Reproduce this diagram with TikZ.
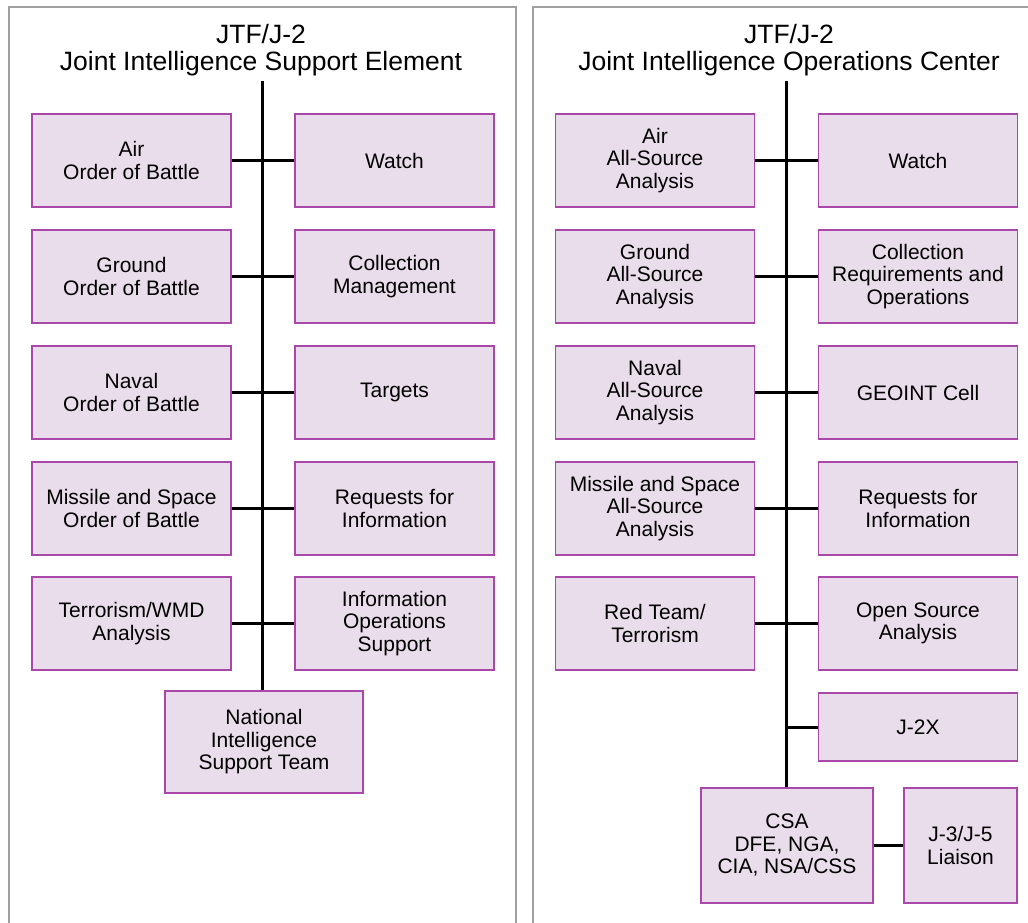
\documentclass[tikz,border=0pt]{standalone}
\usepackage{fontspec}
\setmainfont{Liberation Sans}
\usepackage{tikz}
\definecolor{unitfill}{RGB}{234,221,235}
\definecolor{unitdraw}{RGB}{170,72,170}
\definecolor{panelgray}{RGB}{160,160,160}
\tikzset{
  unit/.style={draw=unitdraw,line width=1.6pt,fill=unitfill,inner sep=0pt,
    minimum width=199pt,minimum height=93pt,align=center,
    font=\fontsize{21}{22.5}\selectfont},
  title/.style={inner sep=0pt,align=center,font=\fontsize{26.5}{27}\selectfont},
  link/.style={line width=3pt},
  panel/.style={draw=panelgray,line width=1.2pt}
}

\begin{document}
\begin{tikzpicture}[x=1pt,y=-1pt]
    \useasboundingbox (0,0) rectangle (1028,923);
    \draw[panel] (9,923) -- (9,7) -- (516,7) -- (516,923);
    \draw[panel] (533,923) -- (533,7) -- (1028,7);

    \node[title] (titleL) at (261,50.6) {JTF/J-2\\Joint Intelligence Support Element};
    \node[title] (titleR) at (789,50.6) {JTF/J-2\\Joint Intelligence Operations Center};

    \node[unit] (la1) at (131.5,160.5) {Air\\Order of Battle};
    \node[unit] (la2) at (131.5,276.5) {Ground\\Order of Battle};
    \node[unit] (la3) at (131.5,392.5) {Naval\\Order of Battle};
    \node[unit] (la4) at (131.5,508.5) {Missile and Space\\Order of Battle};
    \node[unit] (la5) at (131.5,623.5) {Terrorism/WMD\\Analysis};
    \node[unit] (lb1) at (394.5,160.5) {Watch};
    \node[unit] (lb2) at (394.5,276.5) {Collection\\Management};
    \node[unit] (lb3) at (394.5,392.5) {Targets};
    \node[unit] (lb4) at (394.5,508.5) {Requests for\\Information};
    \node[unit] (lb5) at (394.5,623.5) {Information\\Operations\\Support};
    \node[unit,minimum width=198pt,minimum height=102pt] (nist) at (264,742) {National\\Intelligence\\Support Team};

    \coordinate (topL) at (262,81);
    \draw[link] (topL) -- (topL |- nist.north);
    \draw[link] (la1.east) -- (lb1.west);
    \draw[link] (la2.east) -- (lb2.west);
    \draw[link] (la3.east) -- (lb3.west);
    \draw[link] (la4.east) -- (lb4.west);
    \draw[link] (la5.east) -- (lb5.west);

    \node[unit] (ra1) at (655,160.5) {Air\\All-Source\\Analysis};
    \node[unit] (ra2) at (655,276.5) {Ground\\All-Source\\Analysis};
    \node[unit] (ra3) at (655,392.5) {Naval\\All-Source\\Analysis};
    \node[unit] (ra4) at (655,508.5) {Missile and Space\\All-Source\\Analysis};
    \node[unit] (ra5) at (655,623.5) {Red Team/\\Terrorism};
    \node[unit] (rb1) at (918,160.5) {Watch};
    \node[unit] (rb2) at (918,276.5) {Collection\\Requirements and\\Operations};
    \node[unit] (rb3) at (918,392.5) {GEOINT Cell};
    \node[unit] (rb4) at (918,508.5) {Requests for\\Information};
    \node[unit] (rb5) at (918,623.5) {Open Source\\Analysis};
    \node[unit,minimum height=68pt] (jtwox) at (918,727) {J-2X};
    \node[unit,minimum width=172pt,minimum height=115pt] (csa) at (787,845.5) {CSA\\DFE, NGA,\\CIA, NSA/CSS};
    \node[unit,minimum width=113pt,minimum height=115pt] (liaison) at (960.5,845.5) {J-3/J-5\\Liaison};

    \coordinate (topR) at (786,81);
    \draw[link] (topR) -- (topR |- csa.north);
    \draw[link] (ra1.east) -- (rb1.west);
    \draw[link] (ra2.east) -- (rb2.west);
    \draw[link] (ra3.east) -- (rb3.west);
    \draw[link] (ra4.east) -- (rb4.west);
    \draw[link] (ra5.east) -- (rb5.west);
    \draw[link] (topR |- jtwox.west) -- (jtwox.west);
    \draw[link] (csa.east) -- (liaison.west);
\end{tikzpicture}
\end{document}
